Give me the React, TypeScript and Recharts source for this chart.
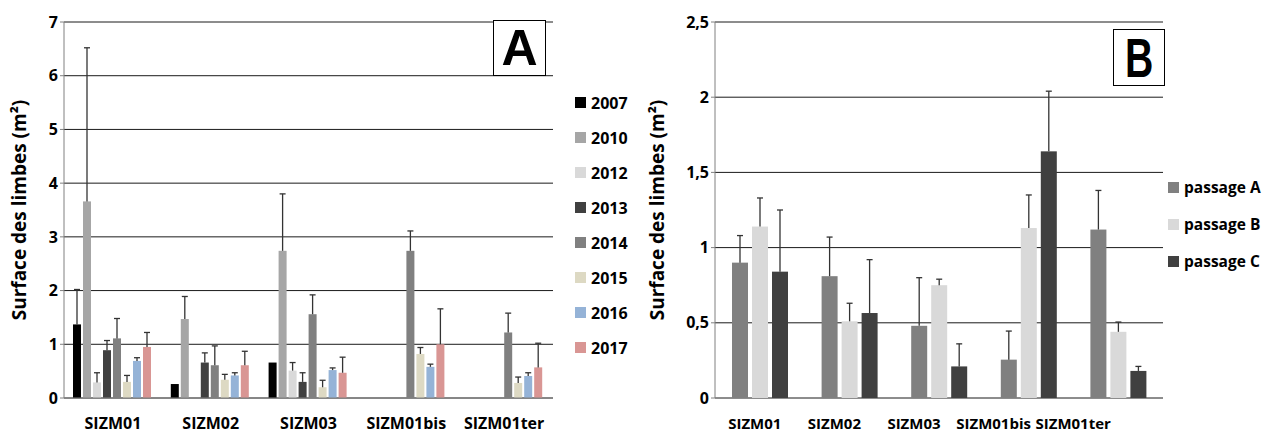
import React from 'react';
import { BarChart, Bar, XAxis, YAxis, CartesianGrid } from 'recharts';

const sites = ['SIZM01', 'SIZM02', 'SIZM03', 'SIZM01bis', 'SIZM01ter'];

// panel A : one series per year (mean, upper error)
const years = ['2007', '2010', '2012', '2013', '2014', '2015', '2016', '2017'];
const yearColors = ['#000000', '#a6a6a6', '#d9d9d9', '#404040', '#808080', '#ddd9c3', '#95b3d7', '#d99694'];
const v2007 = [1.37, 0.26, 0.66, null, null];
const e2007 = [0.65, 0, 0, 0, 0];
const v2010 = [3.66, 1.47, 2.74, null, null];
const e2010 = [2.86, 0.42, 1.06, 0, 0];
const v2012 = [0.29, null, 0.51, null, null];
const e2012 = [0.18, 0, 0.15, 0, 0];
const v2013 = [0.89, 0.66, 0.3, null, null];
const e2013 = [0.18, 0.18, 0.17, 0, 0];
const v2014 = [1.11, 0.61, 1.56, 2.74, 1.22];
const e2014 = [0.37, 0.36, 0.36, 0.37, 0.36];
const v2015 = [0.3, 0.34, 0.2, 0.82, 0.28];
const e2015 = [0.12, 0.1, 0.13, 0.12, 0.11];
const v2016 = [0.69, 0.42, 0.52, 0.58, 0.41];
const e2016 = [0.06, 0.05, 0.04, 0.05, 0.06];
const v2017 = [0.95, 0.61, 0.47, 1.0, 0.57];
const e2017 = [0.27, 0.26, 0.29, 0.66, 0.45];
const yTicksA = [0, 1, 2, 3, 4, 5, 6, 7];

// panel B : one series per passage
const passages = ['passage A', 'passage B', 'passage C'];
const passageColors = ['#808080', '#d9d9d9', '#404040'];
const vPassA = [0.9, 0.81, 0.48, 0.255, 1.12];
const ePassA = [0.18, 0.26, 0.32, 0.19, 0.26];
const vPassB = [1.14, 0.51, 0.75, 1.13, 0.44];
const ePassB = [0.19, 0.12, 0.04, 0.22, 0.065];
const vPassC = [0.84, 0.565, 0.21, 1.64, 0.18];
const ePassC = [0.41, 0.355, 0.15, 0.4, 0.03];
const yTicksB = [0, 0.5, 1, 1.5, 2, 2.5];

const yearVals = [v2007, v2010, v2012, v2013, v2014, v2015, v2016, v2017];
const yearErrs = [e2007, e2010, e2012, e2013, e2014, e2015, e2016, e2017];
const passVals = [vPassA, vPassB, vPassC];
const passErrs = [ePassA, ePassB, ePassC];

const dataA = sites.map((site, i) => {
  const row: any = { site };
  years.forEach((y, j) => {
    row['v' + y] = yearVals[j][i];
    row['e' + y] = yearErrs[j][i];
  });
  return row;
});

const dataB = sites.map((site, i) => {
  const row: any = { site };
  passages.forEach((p, j) => {
    row['v' + j] = passVals[j][i];
    row['e' + j] = passErrs[j][i];
  });
  return row;
});

const FONT = '"Open Sans", sans-serif';
const ERR = '#333333';

// bar + upward error bar, error length scaled from the bar's own pixel height
const barWithErr = (key: string, errKey: string) => (props: any) => {
  const { x, y, width, height, fill, payload } = props;
  const v = payload[key];
  if (v == null || !(height > 0)) return <g />;
  const e = payload[errKey] || 0;
  const k = height / v;
  const yTop = y - e * k;
  const cx = x + width / 2;
  return (
    <g>
      <rect x={x} y={y} width={width} height={height} fill={fill} />
      {e > 0 && (
        <g stroke={ERR} strokeWidth={1.3}>
          <line x1={cx} y1={y} x2={cx} y2={yTop} />
          <line x1={cx - 3} y1={yTop} x2={cx + 3} y2={yTop} />
        </g>
      )}
    </g>
  );
};

const tickStyle = { fontSize: 16, fontWeight: 700, fill: '#000', fontFamily: FONT };

const YLabel = ({ x, cy, size }: { x: number; cy: number; size: number }) => (
  <text
    x={x}
    y={cy}
    transform={`rotate(-90, ${x}, ${cy})`}
    textAnchor="middle"
    dominantBaseline="central"
    fontFamily={FONT}
    fontWeight={700}
    fontSize={size}
    fill="#000"
  >
    Surface des limbes (m²)
  </text>
);

const LetterBox = ({ left, top, w, h, letter, size, sx }: any) => (
  <div
    style={{
      position: 'absolute', left, top, width: w, height: h, boxSizing: 'border-box',
      border: '1.5px solid #000', background: '#fff', display: 'flex',
      alignItems: 'center', justifyContent: 'center',
    }}
  >
    <span
      style={{
        fontFamily: '"Liberation Sans", Arial, sans-serif', fontWeight: 700, fontSize: size,
        lineHeight: 1, display: 'inline-block', transform: `scaleX(${sx})`,
      }}
    >
      {letter}
    </span>
  </div>
);

const LegendList = ({ left, top, names, colors, gap, size }: any) => (
  <div style={{ position: 'absolute', left, top, fontFamily: FONT, fontWeight: 700, fontSize: size }}>
    {names.map((n: string, i: number) => (
      <div key={n} style={{ display: 'flex', alignItems: 'center', height: gap }}>
        <span style={{ width: 11, height: 11, background: colors[i], marginRight: 5, display: 'inline-block' }} />
        <span style={{ lineHeight: 1 }}>{n}</span>
      </div>
    ))}
  </div>
);

export default function App() {
  return (
    <div style={{ position: 'absolute', left: 0, top: 0, width: 1265, height: 435, background: '#fff' }}>
      {/* panel A */}
      <div style={{ position: 'absolute', left: 0, top: 0 }}>
        <BarChart
          width={640}
          height={435}
          data={dataA}
          margin={{ top: 22, right: 87, bottom: 7, left: 20 }}
          barCategoryGap={9}
          barGap={2}
        >
          <CartesianGrid vertical={false} stroke="#1a1a1a" />
          <XAxis
            dataKey="site"
            tickLine={false}
            axisLine={{ stroke: '#808080' }}
            height={30}
            tick={tickStyle}
            dy={12}
            interval={0}
          />
          <YAxis
            domain={[0, 7]}
            ticks={yTicksA}
            interval={0}
            width={44}
            tick={tickStyle}
            tickSize={4}
            tickLine={{ stroke: '#808080' }}
            axisLine={{ stroke: '#808080' }}
            label={{ content: (p: any) => <YLabel x={19} cy={p.viewBox.y + p.viewBox.height / 2} size={19} /> }}
          />
          {years.map((y, j) => (
            <Bar
              key={y}
              dataKey={'v' + y}
              name={y}
              fill={yearColors[j]}
              isAnimationActive={false}
              shape={barWithErr('v' + y, 'e' + y)}
            />
          ))}
        </BarChart>
      </div>
      <LetterBox left={493} top={20} w={53} h={56} letter="A" size={50} sx={1} />
      <LegendList left={575} top={85} names={years} colors={yearColors} gap={35} size={16} />

      {/* panel B */}
      <div style={{ position: 'absolute', left: 640, top: 0 }}>
        <BarChart
          width={625}
          height={435}
          data={dataB}
          margin={{ top: 22, right: 102, bottom: 7, left: 20 }}
          barCategoryGap={17}
          barGap={4}
        >
          <CartesianGrid vertical={false} stroke="#1a1a1a" />
          <XAxis dataKey="site" tick={false} tickLine={false} axisLine={{ stroke: '#808080' }} height={0} />
          <XAxis
            xAxisId="lab"
            dataKey="site"
            tickLine={false}
            axisLine={false}
            height={30}
            padding={{ left: 0, right: 50 }}
            tick={{ ...tickStyle, fontSize: 15 }}
            dy={12}
            interval={0}
          />
          <YAxis
            domain={[0, 2.5]}
            ticks={yTicksB}
            interval={0}
            width={55}
            tick={tickStyle}
            tickSize={4}
            tickLine={{ stroke: '#808080' }}
            axisLine={{ stroke: '#808080' }}
            tickFormatter={(v: number) => String(v).replace('.', ',')}
            label={{ content: (p: any) => <YLabel x={17} cy={p.viewBox.y + p.viewBox.height / 2} size={19} /> }}
          />
          {passages.map((p, j) => (
            <Bar
              key={p}
              dataKey={'v' + j}
              name={p}
              fill={passageColors[j]}
              isAnimationActive={false}
              shape={barWithErr('v' + j, 'e' + j)}
            />
          ))}
        </BarChart>
      </div>
      <LetterBox left={1113} top={29} w={52} h={57} letter="B" size={56} sx={0.7} />
      <LegendList left={1168} top={169} names={passages} colors={passageColors} gap={37} size={15.5} />
    </div>
  );
}
